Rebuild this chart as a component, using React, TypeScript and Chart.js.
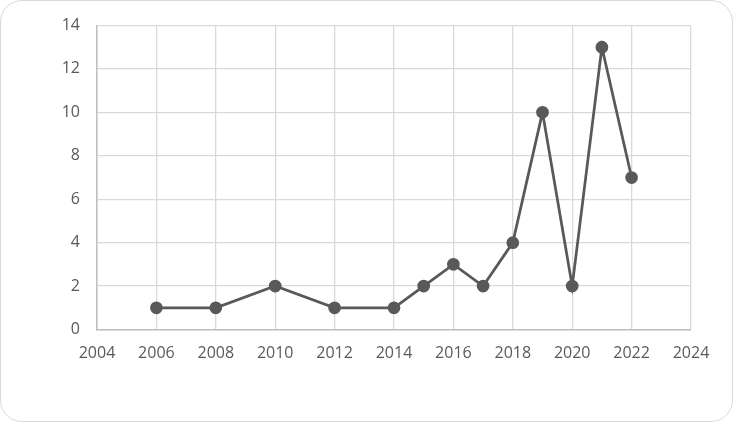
import React, { useEffect, useRef } from "react";
import { Chart, registerables } from "chart.js";

Chart.register(...registerables);

const years = [2006, 2008, 2010, 2012, 2014, 2015, 2016, 2017, 2018, 2019, 2020, 2021, 2022];
const counts = [1, 1, 2, 1, 1, 2, 3, 2, 4, 10, 2, 13, 7];
const xMin = 2004;
const xMax = 2024;
const yMin = 0;
const yMax = 14;

export default function App() {
  const ref = useRef<HTMLCanvasElement>(null);
  useEffect(() => {
    document.body.style.margin = "0";
    const ctx = ref.current!;
    const chart = new Chart(ctx, {
      type: "scatter",
      data: {
        datasets: [
          {
            data: years.map((y, i) => ({ x: y, y: counts[i] })),
            showLine: true,
            borderColor: "#595959",
            backgroundColor: "#595959",
            borderWidth: 2.75,
            pointRadius: 5,
            pointHoverRadius: 5,
            pointBackgroundColor: "#595959",
            pointBorderColor: "#595959",
          },
        ],
      },
      options: {
        animation: false,
        responsive: false,
        maintainAspectRatio: false,
        layout: { padding: { left: 0, right: 42, top: 25.5, bottom: 0 } },
        plugins: { legend: { display: false }, tooltip: { enabled: false } },
        scales: {
          x: {
            type: "linear",
            min: xMin,
            max: xMax,
            ticks: {
              stepSize: 2,
              color: "#595959",
              font: { family: "Open Sans", size: 16 },
              padding: 14,
              callback: (v: any) => String(v),
            },
            grid: { color: "#d9d9d9", lineWidth: 1.3, drawTicks: false },
            border: { color: "#bfbfbf", width: 1.5 },
            afterFit: (s: any) => {
              s.height = 92.5;
              s.paddingLeft = 0;
              s.paddingRight = 0;
            },
          },
          y: {
            min: yMin,
            max: yMax,
            ticks: {
              stepSize: 2,
              color: "#595959",
              font: { family: "Open Sans", size: 16 },
              padding: 17,
            },
            grid: { color: "#d9d9d9", lineWidth: 1.3, drawTicks: false },
            border: { color: "#bfbfbf", width: 1.5 },
            afterFit: (s: any) => {
              s.width = 97;
              s.paddingTop = 0;
              s.paddingBottom = 0;
            },
          },
        },
      },
    });
    return () => chart.destroy();
  }, []);
  return (
    <div
      style={{
        position: "absolute",
        left: 0,
        top: 0,
        width: 733,
        height: 422,
        boxSizing: "border-box",
        border: "1.5px solid #d9d9d9",
        borderRadius: 22,
        background: "#fff",
        overflow: "hidden",
      }}
    >
      <canvas ref={ref} width={733} height={422} style={{ position: "absolute", left: -1.5, top: -1.5 }} />
    </div>
  );
}
